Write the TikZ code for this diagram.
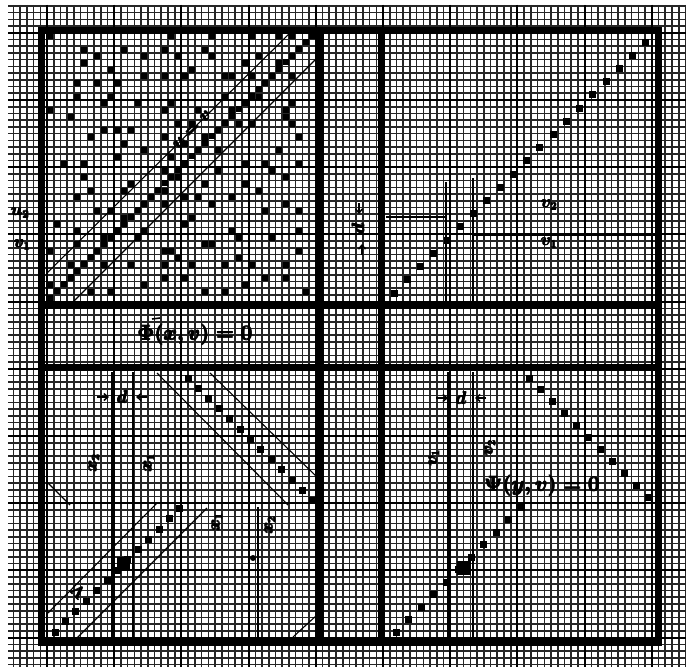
\documentclass[tikz,border=0pt]{standalone}
\usetikzlibrary{arrows.meta}
\newcommand\fatten[1]{\leavevmode\rlap{#1}\rlap{\kern0.7pt#1}\rlap{\raisebox{0.7pt}{#1}}\rlap{\kern0.7pt\raisebox{0.7pt}{#1}}\phantom{#1}\kern0.7pt}
\begin{document}
\begin{tikzpicture}[x=1pt,y=-1pt,
  fine/.style={line width=1.6pt,black!85},
  major/.style={line width=2.1pt,black},
  heavy/.style={line width=7pt,black},
  hand/.style={line width=1.1pt,black},
  handthick/.style={line width=1.8pt,black},
  lbl/.style={inner sep=0pt,font=\fontsize{16}{18}\selectfont\boldmath},
  biglbl/.style={inner sep=0pt,font=\fontsize{21}{24}\selectfont\boldmath},
  barb/.style={-{Straight Barb[length=4pt,width=7pt]},line width=1.5pt}]
\useasboundingbox (0,0) rectangle (686,669);
\fill[white] (0,0) rectangle (686,669);
% fine grid
\foreach \k in {-5,...,95} {\draw[fine] ({47.04+6.72*\k},5) -- ({47.04+6.72*\k},667);}
\foreach \m in {-14,...,84} {\draw[fine] (8,{100+6.72*\m}) -- (686,{100+6.72*\m});}
% major grid
\foreach \q in {0,...,9} {\draw[major] ({47.04+67.2*\q},5) -- ({47.04+67.2*\q},667);}
\foreach \q in {-1,...,8} {\draw[major] (8,{100+67.2*\q}) -- (686,{100+67.2*\q});}
% heavy frame
\draw[heavy] (41,31) rectangle (658,642);
\draw[heavy] (320,31) -- (320,642);
\draw[heavy] (381,31) -- (381,642);
\draw[heavy] (41,305) -- (658,305);
\draw[heavy] (41,367) -- (658,367);
% scattered dots upper-left (one per 3x3 block, pseudo-random)
\foreach \a in {0,...,12} {
  \foreach \b in {0,...,12} {
    \pgfmathtruncatemacro\h{mod(\a*53+\b*29+mod(\a*\b,31)*13,97)}
    \pgfmathtruncatemacro\ox{mod(\h,3)}
    \pgfmathtruncatemacro\oy{mod(floor(\h/3),3)}
    \pgfmathtruncatemacro\keep{mod(\h,10)}
    \ifnum\keep<8
      \fill ({50.4+6.72*(3*\a+\ox)-3},{36.16+6.72*(3*\b+\oy)-3}) rectangle ++(6,6);
    \fi
  }
}
% upper-left diagonal
\foreach \i in {0,...,39} {\fill ({50.4+6.72*\i-3},{348-50.4-6.72*\i-3}) rectangle ++(6,6);}
\draw[hand] (47,273) -- (290,33);
\draw[hand] (73,302) -- (315,60);
\node[lbl,rotate=45] (uv) at (192,130) {\fatten{$u=v$}};
\node[lbl] (u2) at (20,213) {\fatten{$u_2$}};
\node[lbl] (v1l) at (22,245) {\fatten{$v_1$}};
% upper-right
\foreach \k in {0,...,19} {\fill ({394+13.26*\k-3.5},{293-13.21*\k-3.5}) rectangle ++(7,7);}
\draw[handthick] (446,182) -- (446,303);
\draw[handthick] (473,178) -- (473,302);
\draw[hand] (386,217) -- (446,217);
\draw[hand] (473,235) -- (656,235);
\node[lbl] (v2r) at (549,205) {\fatten{$v_2$}};
\node[lbl] (v1r) at (549,243) {\fatten{$v_1$}};
% gap d
\node[lbl,rotate=90] (dgap) at (358,229) {\fatten{$d$}};
\draw[barb] (359,203) -- (359,214);
\draw[barb] (362,255) -- (362,244);
% lower-left
\node[biglbl] (phi) at (195,335) {\fatten{$\Phi(x,v)=0$}};
\draw[line width=1.6pt] (152,319) -- (160,318);
\foreach \k in {0,...,12} {\fill ({188+10.4*\k-3.5},{378+10.2*\k-3.5}) rectangle ++(7,7);}
\draw[hand] (157,373) -- (288,505);
\draw[hand] (210,373) -- (317,477);
\foreach \k in {0,...,12} {\fill ({55+10.4*\k-3.5},{632-10.3*\k-3.5}) rectangle ++(7,7);}
\fill (117,557) rectangle (130,570);
\draw[hand] (48,613) -- (157,503);
\draw[hand] (77,638) -- (207,508);
\draw[hand] (47,482) -- (70,505);
\draw[hand] (293,637) -- (317,615);
\draw[handthick] (112,372) -- (112,640);
\draw[handthick] (133,372) -- (133,640);
\draw[handthick] (258,507) -- (258,640);
\fill (253,558) circle (3);
\node[lbl] (dll) at (122,397) {\fatten{$d$}};
\draw[barb] (97,397) -- (109,397);
\draw[barb] (147,397) -- (136,397);
\node[lbl,rotate=90] (x2a) at (94,463) {\fatten{$x_2$}};
\node[lbl,rotate=90] (x1a) at (149,463) {\fatten{$x_1$}};
\node[lbl,rotate=90] (x1b) at (217,522) {\fatten{$x_1$}};
\node[lbl,rotate=90] (x2b) at (270,525) {\fatten{$x_2$}};
\node[lbl,rotate=-45] (lam) at (78,592) {\fatten{$\Lambda$}};
% lower-right
\foreach \k in {0,...,10} {\fill ({529+11.9*\k-3.5},{378+11.9*\k-3.5}) rectangle ++(7,7);}
\foreach \k in {0,...,10} {\fill ({396+12.5*\k-3.5},{632-12.5*\k-3.5}) rectangle ++(7,7);}
\fill (457,561) rectangle (471,575);
\draw[handthick] (448,372) -- (448,640);
\draw[handthick] (473,372) -- (473,640);
\node[lbl] (dlr) at (461,398) {\fatten{$d$}};
\draw[barb] (436,398) -- (448,398);
\draw[barb] (486,398) -- (475,398);
\node[lbl,rotate=90] (v1b) at (434,458) {\fatten{$v_1$}};
\node[lbl,rotate=90] (v2b) at (490,448) {\fatten{$v_2$}};
\node[biglbl] (psi) at (542,486) {\fatten{$\Psi(y,v)=0$}};
\end{tikzpicture}
\end{document}
